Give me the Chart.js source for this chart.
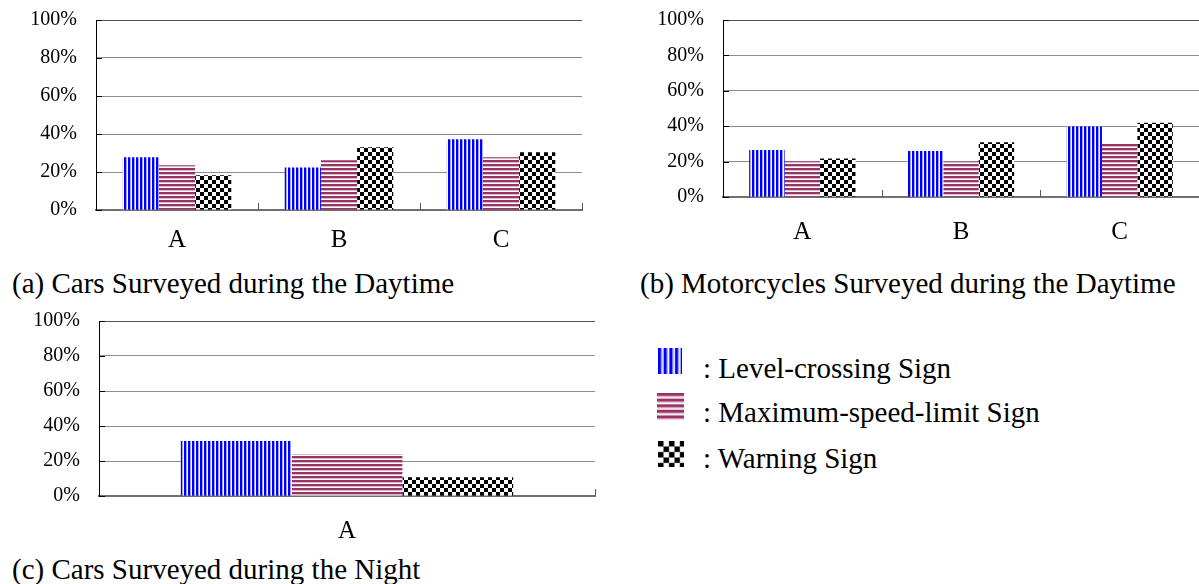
<!DOCTYPE html>
<html>
<head>
<meta charset="utf-8">
<script src="https://cdn.jsdelivr.net/npm/chart.js@4.4.1/dist/chart.umd.min.js"></script>
<style>
  body { margin: 0; background: #fff; }
  #page { position: relative; width: 1199px; height: 584px; overflow: hidden; font-family: 'Liberation Serif', 'Times New Roman', serif; color: #000; }
  canvas { position: absolute; }
  .caption { position: absolute; font-size: 29px; line-height: 29px; white-space: nowrap; }
  .legend-text { position: absolute; left: 703px; font-size: 29px; line-height: 29px; white-space: nowrap; }
  .swatch { position: absolute; filter: blur(0.6px); }
</style>
</head>
<body>
<div id="page">
  <canvas id="carsDay" width="600" height="262" style="left:0;top:0"></canvas>
  <canvas id="motoDay" width="599" height="250" style="left:600px;top:0"></canvas>
  <canvas id="carsNight" width="600" height="250" style="left:0;top:300px"></canvas>

  <div class="caption" style="left:12px;top:269px">(a) Cars Surveyed during the Daytime</div>
  <div class="caption" style="left:640px;top:269px">(b) Motorcycles Surveyed during the Daytime</div>
  <div class="caption" style="left:12px;top:555px">(c) Cars Surveyed during the Night</div>

  <canvas class="swatch" id="swLevel" width="17" height="19" style="left:658px;top:348px;width:24px;height:26px"></canvas>
  <canvas class="swatch" id="swSpeed" width="19" height="20" style="left:657px;top:393px;width:27px;height:28px"></canvas>
  <canvas class="swatch" id="swWarning" width="19" height="19" style="left:658px;top:441px;width:26px;height:26px"></canvas>
  <div class="legend-text" id="lg0" style="top:354px"></div>
  <div class="legend-text" id="lg1" style="top:398px"></div>
  <div class="legend-text" id="lg2" style="top:444px"></div>
</div>

<script>
// values (percent)
const categories = ['A', 'B', 'C'];
const nightCategories = ['A'];
const seriesNames = ['Level-crossing Sign', 'Maximum-speed-limit Sign', 'Warning Sign'];
const yTickValues = [0, 20, 40, 60, 80, 100];

const carsDayLevel = [27.8, 22.4, 37.3];
const carsDaySpeed = [23.6, 26.2, 27.7];
const carsDayWarning = [18.3, 33.0, 30.4];

const motoDayLevel = [26.5, 26.0, 39.8];
const motoDaySpeed = [20.0, 19.9, 30.3];
const motoDayWarning = [21.8, 30.9, 41.9];

const carsNightLevel = [31.4];
const carsNightSpeed = [24.0];
const carsNightWarning = [10.7];

const serif = "'Liberation Serif', 'Times New Roman', serif";

// Excel-like fill patterns
function makePattern(ctx, kind) {
    const c = document.createElement('canvas');
    const g = c.getContext('2d');
    if (kind === 'level') {
        c.width = 4; c.height = 4;
        g.fillStyle = '#ffffff'; g.fillRect(0, 0, 4, 4);
        g.fillStyle = '#0000ff'; g.fillRect(0, 0, 2, 4);
        g.fillStyle = '#a0a0ff'; g.fillRect(2, 0, 1, 4);
    } else if (kind === 'speed') {
        c.width = 4; c.height = 4;
        g.fillStyle = '#ffffff'; g.fillRect(0, 0, 4, 4);
        g.fillStyle = '#993366'; g.fillRect(0, 0, 4, 2);
        g.fillStyle = '#e0b8cc'; g.fillRect(0, 2, 4, 1);
    } else {
        c.width = 8; c.height = 8;
        g.fillStyle = '#ffffff'; g.fillRect(0, 0, 8, 8);
        g.fillStyle = '#000000';
        g.fillRect(0, 0, 4, 4);
        g.fillRect(4, 4, 4, 4);
    }
    return ctx.createPattern(c, 'repeat');
}

// small inward tick marks like the original
const innerTicks = {
    id: 'innerTicks',
    afterDraw(chart) {
        const { ctx, chartArea } = chart;
        const x = chart.scales.x, y = chart.scales.y;
        ctx.save();
        ctx.strokeStyle = '#000';
        ctx.lineWidth = 1;
        y.ticks.forEach((t, i) => {
            const py = Math.round(y.getPixelForTick(i)) + 0.5;
            ctx.beginPath();
            ctx.moveTo(chartArea.left, py);
            ctx.lineTo(chartArea.left + 6, py);
            ctx.stroke();
        });
        ctx.strokeStyle = '#555';
        for (let i = 0; i < x.ticks.length; i++) {
            const px = Math.round(x.getPixelForValue(i + 0.5)) + 0.5;
            ctx.beginPath();
            ctx.moveTo(px, chartArea.bottom);
            ctx.lineTo(px, chartArea.bottom - 7);
            ctx.stroke();
        }
        ctx.restore();
    }
};

function renderBarChart(canvasId, labels, level, speed, warning, box) {
    const ctx = document.getElementById(canvasId).getContext('2d');
    const fills = [makePattern(ctx, 'level'), makePattern(ctx, 'speed'), makePattern(ctx, 'warning')];
    const values = [level, speed, warning];

    new Chart(ctx, {
        type: 'bar',
        data: {
            labels: labels,
            datasets: values.map((v, i) => ({
                label: seriesNames[i],
                data: v,
                backgroundColor: fills[i],
                borderWidth: 0,
                categoryPercentage: 0.67,
                barPercentage: 1.0
            }))
        },
        options: {
            responsive: false,
            animation: false,
            devicePixelRatio: 1,
            layout: { padding: { left: 0, right: box.right, top: box.top, bottom: 0 } },
            plugins: { legend: { display: false }, tooltip: { enabled: false } },
            scales: {
                x: {
                    grid: { display: false, drawTicks: false },
                    border: { display: true, color: '#707070', width: 2 },
                    ticks: { color: '#000', font: { family: serif, size: 25 }, padding: box.xPad },
                    afterFit: s => { s.height = box.xHeight; }
                },
                y: {
                    min: 0,
                    max: 100,
                    afterBuildTicks: s => { s.ticks = yTickValues.map(v => ({ value: v })); },
                    grid: {
                        color: c => (c.tick && c.tick.value === 100 ? '#555555' : '#8c8c8c'),
                        drawTicks: false
                    },
                    border: { color: '#000', width: 1 },
                    ticks: {
                        callback: v => v + '%',
                        color: '#000',
                        font: { family: serif, size: 20 },
                        padding: 19
                    },
                    afterFit: s => {
                        s.width = box.yWidth;
                        s.paddingTop = 0;
                        s.paddingBottom = 0;
                    }
                }
            }
        },
        plugins: [innerTicks]
    });
}

renderBarChart('carsDay', categories, carsDayLevel, carsDaySpeed, carsDayWarning,
    { yWidth: 96, xHeight: 52, top: 20, right: 18, xPad: 15 });
renderBarChart('motoDay', categories, motoDayLevel, motoDaySpeed, motoDayWarning,
    { yWidth: 123, xHeight: 53, top: 20, right: 0, xPad: 20 });
renderBarChart('carsNight', nightCategories, carsNightLevel, carsNightSpeed, carsNightWarning,
    { yWidth: 99, xHeight: 54, top: 21, right: 5, xPad: 20 });

// legend
const swatches = ['swLevel', 'swSpeed', 'swWarning'];
const kinds = ['level', 'speed', 'warning'];
swatches.forEach((id, i) => {
    const cv = document.getElementById(id);
    const g = cv.getContext('2d');
    g.fillStyle = makePattern(g, kinds[i]);
    g.fillRect(0, 0, cv.width, cv.height);
    document.getElementById('lg' + i).textContent = ': ' + seriesNames[i];
});
</script>
</body>
</html>
